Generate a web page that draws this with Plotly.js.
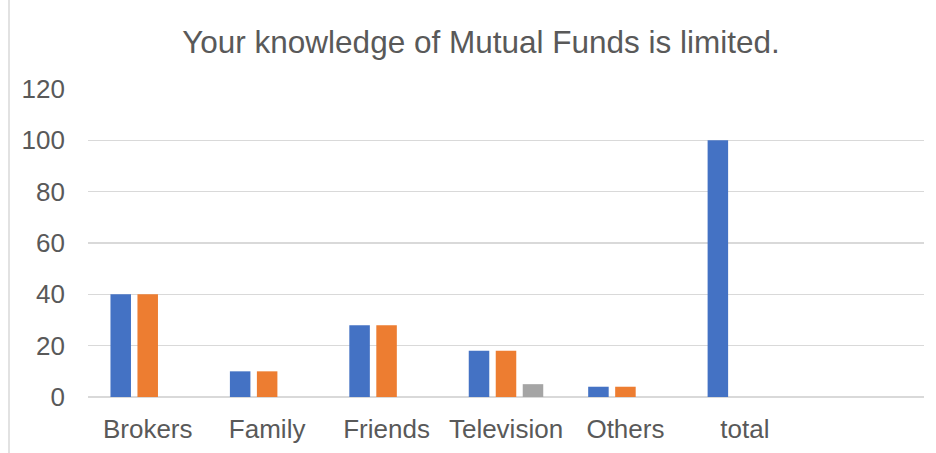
<!DOCTYPE html>
<html>
<head>
<meta charset="utf-8">
<script src="https://cdn.plot.ly/plotly-3.0.1.min.js"></script>
<style>
  html, body { margin: 0; padding: 0; background: #ffffff; }
  #chart { width: 936px; height: 453px; }
</style>
</head>
<body>
<div id="chart"></div>
<script>
const categories = ["Brokers", "Family", "Friends", "Television", "Others", "total"];
const series1 = [40, 10, 28, 18, 4, 100];
const series2 = [40, 10, 28, 18, 4, null];
const series3 = [null, null, null, 5, null, null];
const yTicks = [0, 20, 40, 60, 80, 100, 120];
const chartTitle = "Your knowledge of Mutual Funds is limited.";

const colors = ["#4472C4", "#ED7D31", "#A5A5A5"];
const seriesList = [series1, series2, series3];

const traces = seriesList.map((vals, i) => ({
  type: "bar",
  x: categories,
  y: vals,
  marker: { color: colors[i], line: { width: 0 } },
  hoverinfo: "x+y"
}));

const textColor = "#595959";
const fontFamily = "'Liberation Sans', Arial, sans-serif";

const layout = {
  width: 936,
  height: 453,
  margin: { l: 88, r: 12, t: 89, b: 56, pad: 0 },
  paper_bgcolor: "#ffffff",
  plot_bgcolor: "#ffffff",
  showlegend: false,
  barmode: "group",
  bargap: 0.322,
  bargroupgap: 0.24,
  font: { family: fontFamily, color: textColor, size: 26 },
  title: {
    text: chartTitle,
    font: { family: fontFamily, size: 31.5, color: textColor },
    xref: "container",
    yref: "container",
    x: 481 / 936,
    xanchor: "center",
    y: 1 - 42 / 453,
    yanchor: "middle"
  },
  xaxis: {
    type: "category",
    categoryorder: "array",
    categoryarray: categories,
    range: [-0.5, 6.5],
    showgrid: false,
    zeroline: false,
    showline: false,
    ticks: "",
    ticklabelstandoff: 14,
    tickfont: { family: fontFamily, size: 26, color: textColor }
  },
  yaxis: {
    range: [0, 120],
    tickvals: yTicks,
    ticktext: yTicks.map(String),
    showgrid: true,
    gridcolor: "#D9D9D9",
    gridwidth: 1.5,
    zeroline: true,
    zerolinecolor: "#D9D9D9",
    zerolinewidth: 1.5,
    showline: false,
    ticks: "",
    ticklabelstandoff: 22,
    tickfont: { family: fontFamily, size: 26, color: textColor }
  },
  shapes: [
    {
      type: "line",
      xref: "paper", yref: "paper",
      x0: (9 - 88) / 836, x1: (9 - 88) / 836,
      y0: -56 / 308, y1: 89 / 308 + 1,
      line: { color: "#D9D9D9", width: 1.5 }
    }
  ]
};

Plotly.newPlot("chart", traces, layout, { displayModeBar: false, staticPlot: true });
</script>
</body>
</html>
